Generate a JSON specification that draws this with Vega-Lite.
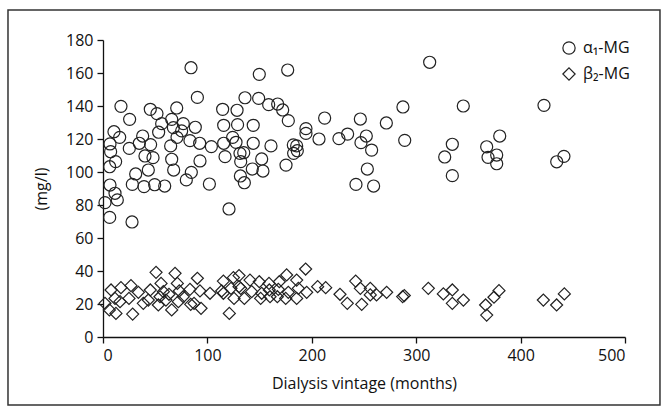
{
  "$schema": "https://vega.github.io/schema/vega-lite/v6.json",
  "autosize": "none",
  "width": 522,
  "height": 297,
  "padding": {"left": 103, "top": 40, "right": 41, "bottom": 75},
  "background": "white",
  "config": {
    "view": {"stroke": null},
    "font": "Open Sans",
    "axis": {"grid": false, "domainColor": "#111", "tickColor": "#111", "labelColor": "#111", "titleColor": "#111", "labelFontSize": 16, "titleFontSize": 16, "titleFontWeight": "normal", "tickSize": 6, "domainWidth": 1.3, "tickWidth": 1.3, "labelPadding": 4, "labelOverlap": false},
    "legend": {"labelFontSize": 16, "labelColor": "#111", "symbolStrokeColor": "#222", "symbolFillColor": "white", "symbolStrokeWidth": 1.2, "symbolSize": 150, "rowPadding": 8, "labelOffset": 6}
  },
  "data": {"values": [
    {"v":84.3,"mg":163.2,"s":"α₁-MG"},{"v":149.7,"mg":159.2,"s":"α₁-MG"},{"v":176.9,"mg":161.8,"s":"α₁-MG"},{"v":90.4,"mg":145.2,"s":"α₁-MG"},{"v":136,"mg":145,"s":"α₁-MG"},{"v":149.1,"mg":144.6,"s":"α₁-MG"},{"v":158.7,"mg":140.8,"s":"α₁-MG"},{"v":167.3,"mg":141.2,"s":"α₁-MG"},{"v":172.1,"mg":137.6,"s":"α₁-MG"},{"v":177.5,"mg":131.1,"s":"α₁-MG"},
    {"v":17.2,"mg":139.8,"s":"α₁-MG"},{"v":45.3,"mg":138,"s":"α₁-MG"},{"v":51.7,"mg":135.4,"s":"α₁-MG"},{"v":70.6,"mg":138.8,"s":"α₁-MG"},{"v":25.5,"mg":131.9,"s":"α₁-MG"},{"v":114.6,"mg":138,"s":"α₁-MG"},{"v":128.4,"mg":137.4,"s":"α₁-MG"},{"v":65.8,"mg":131.9,"s":"α₁-MG"},{"v":56.2,"mg":129.3,"s":"α₁-MG"},{"v":76.9,"mg":129.3,"s":"α₁-MG"},
    {"v":67.4,"mg":126.9,"s":"α₁-MG"},{"v":75.3,"mg":124.9,"s":"α₁-MG"},{"v":88.4,"mg":127.1,"s":"α₁-MG"},{"v":53.3,"mg":124.1,"s":"α₁-MG"},{"v":10.5,"mg":124.4,"s":"α₁-MG"},{"v":16,"mg":121,"s":"α₁-MG"},{"v":38,"mg":121.8,"s":"α₁-MG"},{"v":115.6,"mg":128.3,"s":"α₁-MG"},{"v":128.9,"mg":128.7,"s":"α₁-MG"},{"v":143.9,"mg":128.3,"s":"α₁-MG"},
    {"v":70.9,"mg":121,"s":"α₁-MG"},{"v":34.8,"mg":117.4,"s":"α₁-MG"},{"v":45.6,"mg":116.6,"s":"α₁-MG"},{"v":64.8,"mg":115.8,"s":"α₁-MG"},{"v":83.3,"mg":119,"s":"α₁-MG"},{"v":92.6,"mg":117.4,"s":"α₁-MG"},{"v":103.8,"mg":115.4,"s":"α₁-MG"},{"v":115.6,"mg":117.4,"s":"α₁-MG"},{"v":127.4,"mg":118,"s":"α₁-MG"},{"v":143.9,"mg":117.4,"s":"α₁-MG"},
    {"v":124.2,"mg":121,"s":"α₁-MG"},{"v":160.9,"mg":115.8,"s":"α₁-MG"},{"v":182.3,"mg":116.4,"s":"α₁-MG"},{"v":6.7,"mg":117,"s":"α₁-MG"},{"v":7.3,"mg":112.3,"s":"α₁-MG"},{"v":25.2,"mg":114.3,"s":"α₁-MG"},{"v":40.2,"mg":109.7,"s":"α₁-MG"},{"v":47.9,"mg":108.7,"s":"α₁-MG"},{"v":12.1,"mg":106.3,"s":"α₁-MG"},{"v":6.4,"mg":103.2,"s":"α₁-MG"},
    {"v":116.9,"mg":109.3,"s":"α₁-MG"},{"v":131.2,"mg":111.3,"s":"α₁-MG"},{"v":134.8,"mg":111.7,"s":"α₁-MG"},{"v":152,"mg":107.9,"s":"α₁-MG"},{"v":131.9,"mg":106.3,"s":"α₁-MG"},{"v":65.8,"mg":107.7,"s":"α₁-MG"},{"v":92.9,"mg":106.7,"s":"α₁-MG"},{"v":182.6,"mg":111.3,"s":"α₁-MG"},{"v":175.3,"mg":104.2,"s":"α₁-MG"},{"v":43.4,"mg":101.2,"s":"α₁-MG"},
    {"v":67.7,"mg":101.2,"s":"α₁-MG"},{"v":143,"mg":101.8,"s":"α₁-MG"},{"v":153.2,"mg":100.6,"s":"α₁-MG"},{"v":31.3,"mg":98.8,"s":"α₁-MG"},{"v":84.6,"mg":99.8,"s":"α₁-MG"},{"v":79.8,"mg":95.2,"s":"α₁-MG"},{"v":131.6,"mg":97.6,"s":"α₁-MG"},{"v":135.4,"mg":93.5,"s":"α₁-MG"},{"v":28.1,"mg":92.5,"s":"α₁-MG"},{"v":39.3,"mg":91.1,"s":"α₁-MG"},
    {"v":49.5,"mg":92.3,"s":"α₁-MG"},{"v":59.1,"mg":91.5,"s":"α₁-MG"},{"v":101.9,"mg":92.7,"s":"α₁-MG"},{"v":6.7,"mg":92.1,"s":"α₁-MG"},{"v":11.5,"mg":87.1,"s":"α₁-MG"},{"v":13.7,"mg":83.1,"s":"α₁-MG"},{"v":1.9,"mg":81.4,"s":"α₁-MG"},{"v":6.4,"mg":72.5,"s":"α₁-MG"},{"v":27.8,"mg":69.7,"s":"α₁-MG"},{"v":120.7,"mg":77.6,"s":"α₁-MG"},
    {"v":312.9,"mg":166.5,"s":"α₁-MG"},{"v":287.3,"mg":139.4,"s":"α₁-MG"},{"v":345.1,"mg":140,"s":"α₁-MG"},{"v":212.3,"mg":132.7,"s":"α₁-MG"},{"v":246.5,"mg":132.1,"s":"α₁-MG"},{"v":271.4,"mg":129.7,"s":"α₁-MG"},{"v":194.4,"mg":126.3,"s":"α₁-MG"},{"v":194.4,"mg":123.4,"s":"α₁-MG"},{"v":206.9,"mg":120,"s":"α₁-MG"},{"v":226,"mg":120.2,"s":"α₁-MG"},
    {"v":234.3,"mg":123,"s":"α₁-MG"},{"v":252.2,"mg":121.8,"s":"α₁-MG"},{"v":247.1,"mg":117.8,"s":"α₁-MG"},{"v":289,"mg":119.2,"s":"α₁-MG"},{"v":257.3,"mg":113.3,"s":"α₁-MG"},{"v":185.5,"mg":115.8,"s":"α₁-MG"},{"v":186.1,"mg":112.9,"s":"α₁-MG"},{"v":334.6,"mg":116.8,"s":"α₁-MG"},{"v":327.3,"mg":109.1,"s":"α₁-MG"},{"v":334.6,"mg":97.8,"s":"α₁-MG"},
    {"v":253.2,"mg":101.8,"s":"α₁-MG"},{"v":242.3,"mg":92.5,"s":"α₁-MG"},{"v":259.2,"mg":91.5,"s":"α₁-MG"},{"v":422.4,"mg":140.4,"s":"α₁-MG"},{"v":380,"mg":121.8,"s":"α₁-MG"},{"v":367.5,"mg":115.3,"s":"α₁-MG"},{"v":377.1,"mg":110.3,"s":"α₁-MG"},{"v":368.8,"mg":108.9,"s":"α₁-MG"},{"v":377.1,"mg":105,"s":"α₁-MG"},{"v":434.6,"mg":106.2,"s":"α₁-MG"},{"v":441.5,"mg":109.5,"s":"α₁-MG"},
    {"v":50.8,"mg":39.2,"s":"β₂-MG"},{"v":69,"mg":38.6,"s":"β₂-MG"},{"v":194.1,"mg":41.2,"s":"β₂-MG"},{"v":90.4,"mg":35.6,"s":"β₂-MG"},{"v":55.6,"mg":32.5,"s":"β₂-MG"},{"v":71.2,"mg":32.5,"s":"β₂-MG"},{"v":115.3,"mg":33.9,"s":"β₂-MG"},{"v":124.9,"mg":36,"s":"β₂-MG"},{"v":130.3,"mg":37.2,"s":"β₂-MG"},{"v":175.9,"mg":37.6,"s":"β₂-MG"},
    {"v":185.5,"mg":34.5,"s":"β₂-MG"},{"v":140.8,"mg":34.5,"s":"β₂-MG"},{"v":149.7,"mg":33.5,"s":"β₂-MG"},{"v":159,"mg":32.5,"s":"β₂-MG"},{"v":168.9,"mg":33.5,"s":"β₂-MG"},{"v":7.7,"mg":28.5,"s":"β₂-MG"},{"v":17.2,"mg":29.9,"s":"β₂-MG"},{"v":26.8,"mg":31.1,"s":"β₂-MG"},{"v":33.9,"mg":27.1,"s":"β₂-MG"},{"v":45.3,"mg":28.5,"s":"β₂-MG"},
    {"v":57.8,"mg":27.5,"s":"β₂-MG"},{"v":63.2,"mg":25.9,"s":"β₂-MG"},{"v":73.1,"mg":27.9,"s":"β₂-MG"},{"v":83.3,"mg":28.9,"s":"β₂-MG"},{"v":92.9,"mg":27.9,"s":"β₂-MG"},{"v":102.5,"mg":26.5,"s":"β₂-MG"},{"v":113.7,"mg":27.9,"s":"β₂-MG"},{"v":131.9,"mg":29.5,"s":"β₂-MG"},{"v":142.4,"mg":27.5,"s":"β₂-MG"},{"v":152,"mg":26.5,"s":"β₂-MG"},
    {"v":159.3,"mg":28.5,"s":"β₂-MG"},{"v":167.9,"mg":28.9,"s":"β₂-MG"},{"v":177.5,"mg":27.1,"s":"β₂-MG"},{"v":187.1,"mg":29.5,"s":"β₂-MG"},{"v":195.1,"mg":27.1,"s":"β₂-MG"},{"v":205.6,"mg":30.5,"s":"β₂-MG"},{"v":213.3,"mg":29.9,"s":"β₂-MG"},{"v":227,"mg":25.9,"s":"β₂-MG"},{"v":242,"mg":33.9,"s":"β₂-MG"},{"v":246.5,"mg":29.5,"s":"β₂-MG"},
    {"v":256,"mg":29.5,"s":"β₂-MG"},{"v":256,"mg":25.5,"s":"β₂-MG"},{"v":271.7,"mg":27.1,"s":"β₂-MG"},{"v":288.6,"mg":25.1,"s":"β₂-MG"},{"v":287,"mg":24.5,"s":"β₂-MG"},{"v":311.6,"mg":29.5,"s":"β₂-MG"},{"v":326,"mg":26.1,"s":"β₂-MG"},{"v":334.6,"mg":28.5,"s":"β₂-MG"},{"v":345.2,"mg":22.4,"s":"β₂-MG"},{"v":334.6,"mg":20.4,"s":"β₂-MG"},
    {"v":1.9,"mg":20.4,"s":"β₂-MG"},{"v":6.1,"mg":16.4,"s":"β₂-MG"},{"v":12.4,"mg":14.3,"s":"β₂-MG"},{"v":28.4,"mg":13.9,"s":"β₂-MG"},{"v":43.4,"mg":22.4,"s":"β₂-MG"},{"v":38.6,"mg":20.4,"s":"β₂-MG"},{"v":53,"mg":19.4,"s":"β₂-MG"},{"v":65.8,"mg":16.4,"s":"β₂-MG"},{"v":60.3,"mg":22.4,"s":"β₂-MG"},{"v":76.9,"mg":24.4,"s":"β₂-MG"},
    {"v":87.2,"mg":20.4,"s":"β₂-MG"},{"v":93.9,"mg":17.4,"s":"β₂-MG"},{"v":121,"mg":14.3,"s":"β₂-MG"},{"v":125.5,"mg":23.4,"s":"β₂-MG"},{"v":135.4,"mg":23.4,"s":"β₂-MG"},{"v":160,"mg":24.4,"s":"β₂-MG"},{"v":175,"mg":23.4,"s":"β₂-MG"},{"v":185.5,"mg":23.4,"s":"β₂-MG"},{"v":234,"mg":20.4,"s":"β₂-MG"},{"v":247.8,"mg":19.8,"s":"β₂-MG"},
    {"v":16.3,"mg":21.4,"s":"β₂-MG"},{"v":24.9,"mg":23.4,"s":"β₂-MG"},{"v":11.5,"mg":23.4,"s":"β₂-MG"},{"v":54.6,"mg":24.4,"s":"β₂-MG"},{"v":72.2,"mg":21.4,"s":"β₂-MG"},{"v":84,"mg":19.8,"s":"β₂-MG"},{"v":115.3,"mg":26.5,"s":"β₂-MG"},{"v":122.6,"mg":29.5,"s":"β₂-MG"},{"v":130.3,"mg":30.5,"s":"β₂-MG"},{"v":151,"mg":23.4,"s":"β₂-MG"},
    {"v":167,"mg":24.4,"s":"β₂-MG"},{"v":262,"mg":25.5,"s":"β₂-MG"},{"v":366.5,"mg":19.4,"s":"β₂-MG"},{"v":367.5,"mg":13.3,"s":"β₂-MG"},{"v":374.5,"mg":24.1,"s":"β₂-MG"},{"v":379.3,"mg":28.1,"s":"β₂-MG"},{"v":421.8,"mg":22.4,"s":"β₂-MG"},{"v":434.5,"mg":19.4,"s":"β₂-MG"},{"v":441.9,"mg":26.1,"s":"β₂-MG"}
  ]},
  "layer": [
    {
      "mark": {"type": "point", "filled": false, "stroke": "#222", "strokeWidth": 1.2, "opacity": 1, "size": 145},
      "encoding": {
        "x": {"field": "v", "type": "quantitative", "scale": {"domain": [0, 500], "nice": false},
              "axis": {"values": [0, 100, 200, 300, 400, 500], "tickCount": 6, "labelOverlap": false, "title": "Dialysis vintage (months)", "titlePadding": 12}},
        "y": {"field": "mg", "type": "quantitative", "scale": {"domain": [0, 180], "nice": false},
              "axis": {"values": [0, 20, 40, 60, 80, 100, 120, 140, 160, 180], "tickCount": 10, "labelOverlap": false, "title": "(mg/l)", "titlePadding": 16}},
        "shape": {"field": "s", "type": "nominal",
                  "scale": {"domain": ["α₁-MG", "β₂-MG"], "range": ["circle", "diamond"]},
                  "legend": {"title": null, "orient": "none", "legendX": 458, "legendY": 0}}
      }
    },
    {
      "data": {"values": [{}]},
      "mark": {"type": "rect", "fill": null, "stroke": "#333", "strokeWidth": 1.5},
      "encoding": {
        "x": {"datum": -91, "type": "quantitative"},
        "x2": {"datum": 533.5},
        "y": {"datum": 198.2, "type": "quantitative"},
        "y2": {"datum": -41.2}
      }
    }
  ]
}
